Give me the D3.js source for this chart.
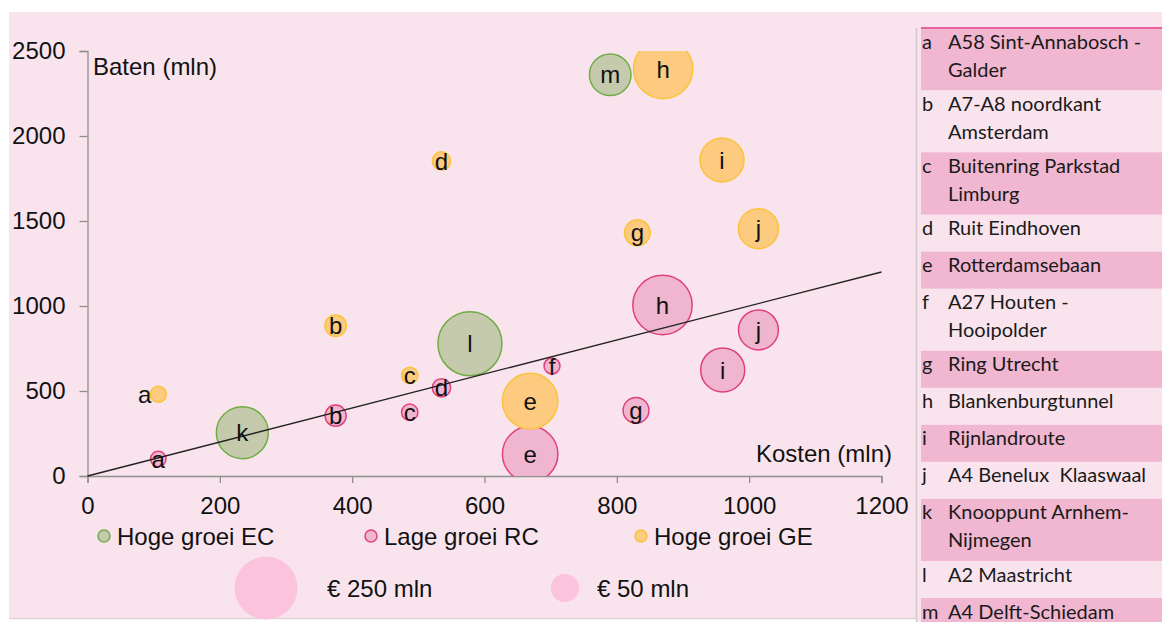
<!DOCTYPE html>
<html>
<head>
<meta charset="utf-8">
<script src="https://cdn.jsdelivr.net/npm/d3@7"></script>
<style>
  html, body { margin: 0; padding: 0; background: #ffffff; }
  svg { display: block; }
</style>
</head>
<body>
<svg id="chart" width="1162" height="622"></svg>
<script>
// ---------- DATA ----------
const seriesNames = ["Hoge groei EC", "Lage groei RC", "Hoge groei GE"];

const ecLabels = ["k", "l", "m"];
const ecKosten = [234, 578, 790];
const ecBaten  = [255, 778, 2360];
const ecSize   = [170, 258, 109];

const rcLabels = ["a", "b", "c", "d", "e", "f", "g", "h", "i", "j"];
const rcKosten = [107, 375, 487, 535, 669, 702, 829, 869, 960, 1014];
const rcBaten  = [100, 355, 375, 519, 129, 647, 386, 1006, 624, 859];
const rcSize   = [15, 28, 17, 21, 194, 16, 42, 222, 122, 100];

const geLabels = ["a", "b", "c", "d", "e", "g", "h", "i", "j"];
const geKosten = [107, 375, 487, 535, 669, 831, 870, 959, 1014];
const geBaten  = [481, 884, 592, 1853, 441, 1431, 2394, 1859, 1455];
const geSize   = [16, 29, 17, 21, 194, 42, 222, 122, 101];

const trendKosten = [0, 1200];
const trendBaten  = [0, 1200];

const xTicks = [0, 200, 400, 600, 800, 1000, 1200];
const yTicks = [0, 500, 1000, 1500, 2000, 2500];
const xTitle = "Kosten (mln)";
const yTitle = "Baten (mln)";

const sizeLegendValues = [250, 50];
const sizeLegendLabels = ["€ 250 mln", "€ 50 mln"];

const tableLetters = ["a","b","c","d","e","f","g","h","i","j","k","l","m"];
const tableNames = [
  "A58 Sint-Annabosch -\nGalder",
  "A7-A8 noordkant\nAmsterdam",
  "Buitenring Parkstad\nLimburg",
  "Ruit Eindhoven",
  "Rotterdamsebaan",
  "A27 Houten -\nHooipolder",
  "Ring Utrecht",
  "Blankenburgtunnel",
  "Rijnlandroute",
  "A4 Benelux  Klaaswaal",
  "Knooppunt Arnhem-\nNijmegen",
  "A2 Maastricht",
  "A4 Delft-Schiedam"
];

// ---------- STYLE ----------
const BG = "#f9e4ee";
const BAND = "#f1b7d0";
const FONT = "'Liberation Sans', Arial, sans-serif";
const TFONT = "Lato, 'Open Sans', sans-serif";
const fills   = ["#c4caab", "#f1b6cf", "#fccb80"];
const strokes = ["#70ad47", "#e0407e", "#fbc33c"];

const svg = d3.select("#chart");

// backgrounds
svg.append("rect").attr("x", 9).attr("y", 12).attr("width", 1153).attr("height", 610).attr("fill", BG);
svg.append("rect").attr("x", 9).attr("y", 618).attr("width", 907).attr("height", 4).attr("fill", "#ffffff");
svg.append("line").attr("x1", 9).attr("x2", 916).attr("y1", 618.5).attr("y2", 618.5)
  .attr("stroke", "#ddd3d8").attr("stroke-width", 1.5);

// ---------- SCALES ----------
const x = d3.scaleLinear().domain([0, 1200]).range([87.5, 881.5]);
const y = d3.scaleLinear().domain([0, 2500]).range([476, 51]);
const r = d3.scaleSqrt().domain([0, 250]).range([0, 31.5]);

// axes
const xAxis = svg.append("g").attr("transform", `translate(0,${y(0)})`)
  .call(d3.axisBottom(x).tickValues(xTicks).tickSize(7).tickPadding(14).tickFormat(d3.format("d")));
const yAxis = svg.append("g").attr("transform", `translate(${x(0)},0)`)
  .call(d3.axisLeft(y).tickValues(yTicks).tickSize(8).tickPadding(14).tickFormat(d3.format("d")));
[xAxis, yAxis].forEach(g => {
  g.select(".domain").attr("stroke", "#8f8f8f").attr("stroke-width", 1.3);
  g.selectAll(".tick line").attr("stroke", "#8f8f8f").attr("stroke-width", 1.3);
  g.selectAll(".tick text").attr("fill", "#111").style("font-family", FONT).style("font-size", "24px");
});

// axis titles
svg.append("text").attr("x", 93).attr("y", 75).text(yTitle)
  .style("font-family", FONT).style("font-size", "24px").attr("fill", "#111");
svg.append("text").attr("x", 892).attr("y", 462).attr("text-anchor", "end").text(xTitle)
  .style("font-family", FONT).style("font-size", "24px").attr("fill", "#111");

// clip
svg.append("clipPath").attr("id", "plotclip").append("rect")
  .attr("x", x(0)).attr("y", y(2500)).attr("width", x(1200) - x(0)).attr("height", y(0) - y(2500));

// bubbles
const series = [
  { labels: ecLabels, kosten: ecKosten, baten: ecBaten, size: ecSize },
  { labels: rcLabels, kosten: rcKosten, baten: rcBaten, size: rcSize },
  { labels: geLabels, kosten: geKosten, baten: geBaten, size: geSize }
].map((s, si) => s.labels.map((l, i) => ({ si, label: l, kx: s.kosten[i], by: s.baten[i], sz: s.size[i] })));

const plot = svg.append("g").attr("clip-path", "url(#plotclip)");
series.forEach((pts, si) => {
  plot.selectAll(null).data(pts).enter().append("circle")
    .attr("cx", d => x(d.kx)).attr("cy", d => y(d.by)).attr("r", d => r(d.sz))
    .attr("fill", fills[si]).attr("stroke", strokes[si]).attr("stroke-width", 1.5);
});

// trend line
svg.append("line")
  .attr("x1", x(trendKosten[0])).attr("y1", y(trendBaten[0]))
  .attr("x2", x(trendKosten[1])).attr("y2", y(trendBaten[1]))
  .attr("stroke", "#222").attr("stroke-width", 1.3);

// labels
series.forEach((pts, si) => {
  svg.selectAll(null).data(pts).enter().append("text")
    .attr("x", d => (si === 2 && d.label === "a") ? x(d.kx) - r(d.sz) + 1 : x(d.kx))
    .attr("y", d => y(d.by))
    .attr("dy", "0.36em")
    .attr("text-anchor", d => (si === 2 && d.label === "a") ? "end" : "middle")
    .style("font-family", FONT).style("font-size", "24px").attr("fill", "#111")
    .text(d => d.label);
});

// legend row 1
const legX = [104, 371, 641];
seriesNames.forEach((name, i) => {
  const g = svg.append("g").attr("transform", `translate(${legX[i]},536)`);
  g.append("circle").attr("r", 6).attr("fill", fills[i]).attr("stroke", strokes[i]).attr("stroke-width", 1.5);
  g.append("text").attr("x", 13).attr("y", 8.5).text(name)
    .style("font-family", FONT).style("font-size", "24px").attr("fill", "#111");
});

// size legend
const sizeLegX = [266, 565];
const sizeTextX = [327, 597];
sizeLegendValues.forEach((v, i) => {
  svg.append("circle").attr("cx", sizeLegX[i]).attr("cy", 588).attr("r", r(v)).attr("fill", "#fcc3dc");
  svg.append("text").attr("x", sizeTextX[i]).attr("y", 597).text(sizeLegendLabels[i])
    .style("font-family", FONT).style("font-size", "24px").attr("fill", "#111");
});

// ---------- TABLE ----------
const tX = 921, tW = 1162 - 921;
svg.append("line").attr("x1", 916.5).attr("x2", 916.5).attr("y1", 28).attr("y2", 622)
  .attr("stroke", "#d3c7cd").attr("stroke-width", 1.5);
let ty = 28;
tableLetters.forEach((L, i) => {
  const lines = tableNames[i].split("\n");
  const h = 37 + (lines.length - 1) * 25.2;
  if (i % 2 === 0) {
    svg.append("rect").attr("x", tX).attr("y", ty).attr("width", tW).attr("height", h).attr("fill", BAND);
  }
  svg.append("text").attr("x", 922).attr("y", ty + 13.5).attr("dy", "0.35em").text(L)
    .style("font-family", TFONT).style("font-size", "20px").attr("fill", "#1a1a1a");
  lines.forEach((ln, j) => {
    svg.append("text").attr("x", 948).attr("y", ty + 13.5 + j * 28).attr("dy", "0.35em").text(ln)
      .attr("xml:space", "preserve").style("white-space", "pre")
      .style("font-family", TFONT).style("font-size", "20px").attr("fill", "#1a1a1a");
  });
  ty += h;
});
svg.append("line").attr("x1", tX).attr("x2", 1162).attr("y1", 28).attr("y2", 28)
  .attr("stroke", "#e8629c").attr("stroke-width", 2);
</script>
</body>
</html>
